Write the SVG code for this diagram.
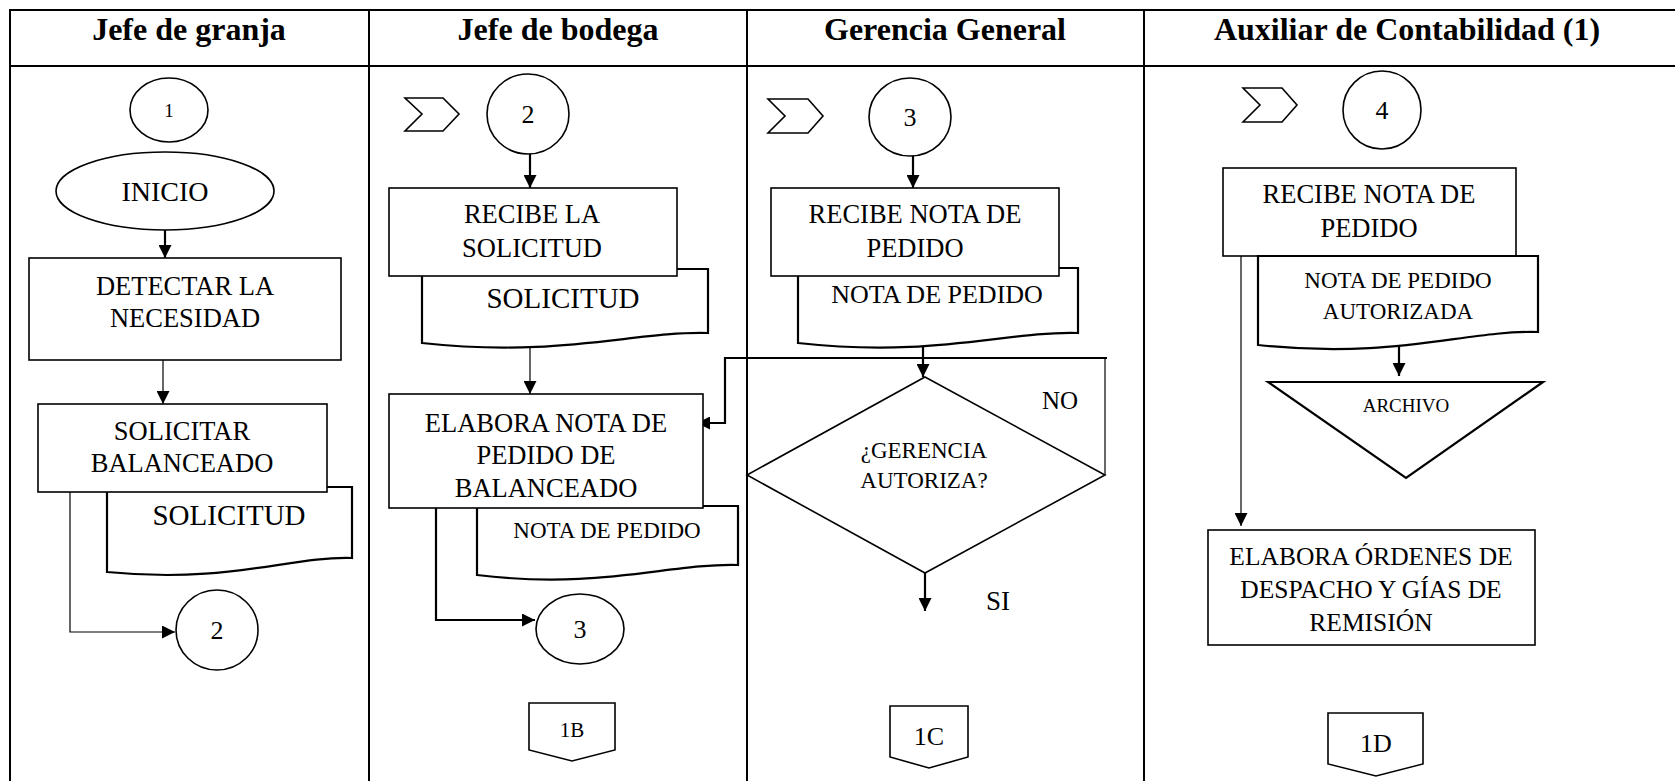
<svg xmlns="http://www.w3.org/2000/svg" width="1675" height="781" viewBox="0 0 1675 781" font-family="Liberation Serif, Tinos, Times New Roman, DejaVu Serif, serif">
<style>
text{font-family:'Liberation Serif',Tinos,'Times New Roman','DejaVu Serif',serif;fill:#000;text-anchor:middle}
.hd{font-weight:bold;font-size:32px}
.bx{font-size:26.5px}
.sh{fill:#fff;stroke:#000;stroke-width:1.6}
.dc{fill:#fff;stroke:#000;stroke-width:2.2}
.tb{stroke:#000;stroke-width:2;fill:none}
.c1{stroke:#000;stroke-width:1.2;fill:none}
.c2{stroke:#000;stroke-width:2.2;fill:none}
</style>
<defs>
<marker id="ah" markerUnits="userSpaceOnUse" markerWidth="13" markerHeight="13" refX="13" refY="6.5" orient="auto" viewBox="0 0 13 13">
<path d="M0,0 L13,6.5 L0,13 z" fill="#000"/>
</marker>
</defs>
<rect width="1675" height="781" fill="#fff"/>
<g id="table">
<line class="tb" x1="9" y1="10" x2="1675" y2="10"/>
<line class="tb" x1="9" y1="66" x2="1675" y2="66"/>
<line class="tb" x1="10" y1="10" x2="10" y2="781"/>
<line class="tb" x1="369" y1="10" x2="369" y2="781"/>
<line class="tb" x1="747" y1="10" x2="747" y2="781"/>
<line class="tb" x1="1144" y1="10" x2="1144" y2="781"/>
<text class="hd" x="189" y="40">Jefe de granja</text>
<text class="hd" x="558" y="40">Jefe de bodega</text>
<text class="hd" x="945" y="40">Gerencia General</text>
<text class="hd" x="1407" y="40">Auxiliar de Contabilidad (1)</text>
</g>
<g id="connectors">
<line class="c2" x1="165" y1="230" x2="165" y2="258" marker-end="url(#ah)"/>
<line class="c1" x1="163" y1="360" x2="163" y2="404" marker-end="url(#ah)"/>
<polyline class="c1" points="70,492 70,632 175,632" marker-end="url(#ah)"/>
<line class="c2" x1="530" y1="153" x2="530" y2="188" marker-end="url(#ah)"/>
<line class="c1" x1="530" y1="343" x2="530" y2="394" marker-end="url(#ah)"/>
<polyline class="c2" points="436,508 436,620 535,620" marker-end="url(#ah)"/>
<line class="c2" x1="913" y1="156" x2="913" y2="188" marker-end="url(#ah)"/>
<line class="c2" x1="923" y1="343" x2="923" y2="377" marker-end="url(#ah)"/>
<line class="c1" x1="1105" y1="475" x2="1105" y2="358"/>
<polyline class="c2" points="1107,358 725,358 725,423 697,423" marker-end="url(#ah)"/>
<line class="c2" x1="925" y1="573" x2="925" y2="611" marker-end="url(#ah)"/>
<line class="c2" x1="1399" y1="340" x2="1399" y2="376" marker-end="url(#ah)"/>
<line class="c1" x1="1241" y1="256" x2="1241" y2="526" marker-end="url(#ah)"/>
</g>
<g id="n-c1">
<ellipse class="sh" cx="169" cy="110" rx="39" ry="32"/>
<text x="169" y="117" font-size="19">1</text>
</g>
<g id="n-inicio">
<ellipse class="sh" cx="165" cy="191" rx="109" ry="39"/>
<text x="165" y="201" font-size="28">INICIO</text>
</g>
<g id="n-detectar">
<rect class="sh" x="29" y="258" width="312" height="102"/>
<text class="bx" x="185" y="295">DETECTAR LA</text>
<text class="bx" x="185" y="327">NECESIDAD</text>
</g>
<g id="n-doc-solicitud1">
<path class="dc" d="M107,487 H352 V558 C290,556 230,584 107,572 Z"/>
<text x="229" y="525" font-size="29">SOLICITUD</text>
</g>
<g id="n-solicitar">
<rect class="sh" x="38" y="404" width="289" height="88"/>
<text class="bx" x="182" y="440">SOLICITAR</text>
<text class="bx" x="182" y="472">BALANCEADO</text>
</g>
<g id="n-c2a">
<ellipse class="sh" cx="217" cy="630" rx="41" ry="40"/>
<text x="217" y="639" font-size="26">2</text>
</g>
<g id="n-chev2">
<polygon class="sh" points="405,98 443,98 459,114 443,131 405,131 422,114"/>
</g>
<g id="n-c2b">
<ellipse class="sh" cx="528" cy="114" rx="41" ry="40"/>
<text x="528" y="123" font-size="26">2</text>
</g>
<g id="n-doc-solicitud2">
<path class="dc" d="M422,269 H708 V333 C635,331 560,358 422,343 Z"/>
<text x="563" y="308" font-size="29">SOLICITUD</text>
</g>
<g id="n-recibe-sol">
<rect class="sh" x="389" y="188" width="288" height="88"/>
<text class="bx" x="532" y="223">RECIBE LA</text>
<text class="bx" x="532" y="257">SOLICITUD</text>
</g>
<g id="n-doc-nota2">
<path class="dc" d="M477,506 H738 V565 C670,563 600,590 477,575 Z"/>
<text x="607" y="538" font-size="23">NOTA DE PEDIDO</text>
</g>
<g id="n-elabora-nota">
<rect class="sh" x="389" y="394" width="314" height="114"/>
<text class="bx" x="546" y="432">ELABORA NOTA DE</text>
<text class="bx" x="546" y="464">PEDIDO DE</text>
<text class="bx" x="546" y="497">BALANCEADO</text>
</g>
<g id="n-c3a">
<ellipse class="sh" cx="580" cy="629" rx="44" ry="35"/>
<text x="580" y="638" font-size="26">3</text>
</g>
<g id="n-1b">
<polygon class="sh" points="529,703 615,703 615,750 572,761 529,750"/>
<text x="572" y="737" font-size="21">1B</text>
</g>
<g id="n-chev3">
<polygon class="sh" points="768,99 808,99 823,116 808,133 768,133 785,116"/>
</g>
<g id="n-c3b">
<ellipse class="sh" cx="910" cy="117" rx="41" ry="39"/>
<text x="910" y="126" font-size="26">3</text>
</g>
<g id="n-doc-nota3">
<path class="dc" d="M798,268 H1078 V333 C1005,331 935,358 798,343 Z"/>
<text x="937" y="303" font-size="26">NOTA DE PEDIDO</text>
</g>
<g id="n-recibe-nota3">
<rect class="sh" x="771" y="188" width="288" height="88"/>
<text class="bx" x="915" y="223">RECIBE NOTA DE</text>
<text class="bx" x="915" y="257">PEDIDO</text>
</g>
<g id="n-decision">
<polygon class="sh" points="925,377 1105,475 925,573 747,475"/>
<text x="924" y="458" font-size="23">¿GERENCIA</text>
<text x="924" y="488" font-size="23">AUTORIZA?</text>
<text x="1060" y="409" font-size="25">NO</text>
<text x="998" y="610" font-size="27">SI</text>
</g>
<g id="n-1c">
<polygon class="sh" points="890,706 968,706 968,757 929,768 890,757"/>
<text x="929" y="745" font-size="26">1C</text>
</g>
<g id="n-chev4">
<polygon class="sh" points="1243,88 1282,88 1297,105 1282,122 1243,122 1260,105"/>
</g>
<g id="n-c4">
<ellipse class="sh" cx="1382" cy="110" rx="39" ry="39"/>
<text x="1382" y="119" font-size="26">4</text>
</g>
<g id="n-recibe-nota4">
<rect class="sh" x="1223" y="168" width="293" height="88"/>
<text class="bx" x="1369" y="203">RECIBE NOTA DE</text>
<text class="bx" x="1369" y="237">PEDIDO</text>
</g>
<g id="n-doc-nota4">
<path class="dc" d="M1258,256 H1538 V332 C1465,330 1395,360 1258,345 Z"/>
<text x="1398" y="288" font-size="23">NOTA DE PEDIDO</text>
<text x="1398" y="319" font-size="23">AUTORIZADA</text>
</g>
<g id="n-archivo">
<polygon class="dc" points="1268,382 1543,382 1406,478"/>
<text x="1406" y="412" font-size="19">ARCHIVO</text>
</g>
<g id="n-elabora-ordenes">
<rect class="sh" x="1208" y="530" width="327" height="115"/>
<text x="1371" y="565" font-size="25.5">ELABORA ÓRDENES DE</text>
<text x="1371" y="598" font-size="25.5">DESPACHO Y GÍAS DE</text>
<text x="1371" y="631" font-size="25.5">REMISIÓN</text>
</g>
<g id="n-1d">
<polygon class="sh" points="1328,713 1423,713 1423,764 1376,776 1328,764"/>
<text x="1376" y="752" font-size="26">1D</text>
</g>
</svg>
